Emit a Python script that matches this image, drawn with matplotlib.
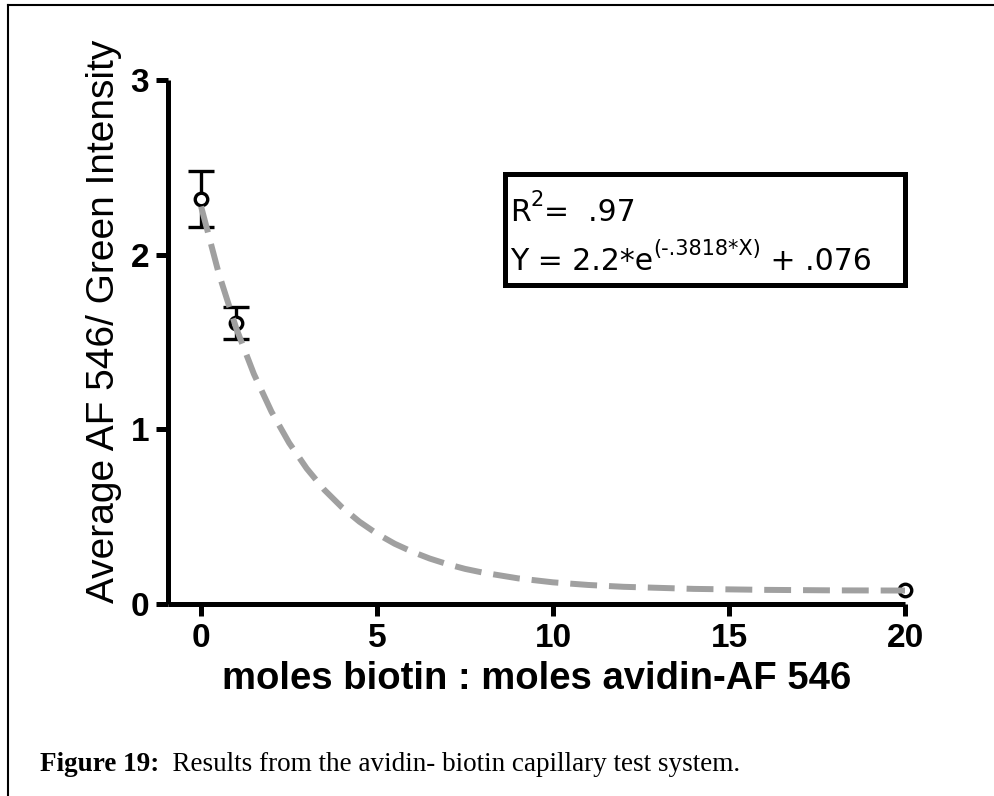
import matplotlib
matplotlib.use("Agg")
import matplotlib.pyplot as plt
from matplotlib.lines import Line2D

# Data
x_data = [0, 1, 20]
y_data = [2.32, 1.61, 0.08]
y_err = [0.16, 0.09, 0.0]

# Fitted curve
fit_x = [0, 0.5, 1, 1.5, 2, 2.5, 3, 3.5, 4, 4.5, 5, 5.5, 6, 6.5, 7, 7.5, 8,
         9, 10, 11, 12, 14, 16, 18, 20]
fit_y = [2.276, 1.894, 1.578, 1.317, 1.101, 0.923, 0.776, 0.654, 0.554, 0.471,
         0.402, 0.345, 0.299, 0.260, 0.228, 0.201, 0.180, 0.147, 0.124, 0.109,
         0.0985, 0.0865, 0.081, 0.078, 0.077]

x_ticks = [0, 5, 10, 15, 20]
y_ticks = [0, 1, 2, 3]

annot1_parts = [("R", False), ("2", True), ("=  .97", False)]
annot2_parts = [("Y = 2.2*e", False), ("(-.3818*X)", True), (" + .076", False)]
caption_bold = "Figure 19:"
caption_rest = "  Results from the avidin- biotin capillary test system."

plt.rcParams['font.family'] = ['Liberation Sans', 'DejaVu Sans']

W, H = 995, 796
fig = plt.figure(figsize=(W / 100, H / 100), dpi=100)

# Outer frame lines (left and top)
fig.add_artist(Line2D([8 / W, 8 / W], [0, 1 - 5 / H], transform=fig.transFigure,
                      color='black', lw=1.5))
fig.add_artist(Line2D([8 / W, 1], [1 - 5 / H, 1 - 5 / H], transform=fig.transFigure,
                      color='black', lw=1.5))

ax = fig.add_axes([168 / W, 1 - 604 / H, (905 - 168) / W, (604 - 80) / H])
ax.set_xlim(-0.94, 20)
ax.set_ylim(0, 3)

for s in ['top', 'right']:
    ax.spines[s].set_visible(False)
for s in ['left', 'bottom']:
    ax.spines[s].set_linewidth(3.6)
    ax.spines[s].set_capstyle('butt')

ax.set_xticks(x_ticks)
ax.set_yticks(y_ticks)
ax.tick_params(direction='out', length=8.5, width=3.6, labelsize=24, pad=5)
for lab in ax.get_xticklabels() + ax.get_yticklabels():
    lab.set_fontweight('bold')

ax.plot(fit_x, fit_y, linestyle=(0, (4.5, 2.0)), color='#a0a0a0', lw=4.3,
        clip_on=False, zorder=3, dash_capstyle='butt')

# error bars only where an error is visible
ex = [x for x, e in zip(x_data, y_err) if e > 0]
ey = [y for y, e in zip(y_data, y_err) if e > 0]
ee = [e for e in y_err if e > 0]
ax.errorbar(ex, ey, yerr=ee, fmt='none', ecolor='black', elinewidth=2.4,
            capsize=9.5, capthick=2.4, clip_on=False, zorder=2)
ax.plot(x_data, y_data, 'o', mfc='white', mec='black', mew=2.4, ms=9,
        clip_on=False, zorder=2)

ax.set_xlabel("moles biotin : moles avidin-AF 546", fontsize=27.5,
              fontweight='bold', labelpad=5)
ax.set_ylabel("Average AF 546/ Green Intensity", fontsize=28)
ax.yaxis.set_label_coords(-0.062, 0.54)

# Annotation box
fig.add_artist(plt.Rectangle((505 / W, 1 - 285 / H), (905 - 505) / W, (285 - 174) / H,
                             transform=fig.transFigure, fill=False,
                             ec='black', lw=3.6))


def write_parts(parts, x_px, y_px, size):
    fig.canvas.draw()
    r = fig.canvas.get_renderer()
    x = x_px
    for txt, sup in parts:
        fs = size * 0.7 if sup else size
        yy = y_px + (size * 0.5 if sup else 0) * 100 / 72
        t = fig.text(x / W, yy / H, txt, fontsize=fs, va='baseline', ha='left',
                     family='DejaVu Sans')
        x = t.get_window_extent(renderer=r).x1


write_parts(annot1_parts, 510, H - 221, 21.5)
write_parts(annot2_parts, 510, H - 270, 21.5)

# Caption
t = fig.text(40 / W, 1 - 771 / H, caption_bold, fontsize=19.5, fontweight='bold',
             family='Liberation Serif', va='baseline', ha='left')
fig.canvas.draw()
bb = t.get_window_extent()
fig.text(bb.x1 / W, 1 - 771 / H, caption_rest, fontsize=19.5,
         family='Liberation Serif', va='baseline', ha='left')

fig.savefig("out.png", dpi=100)
